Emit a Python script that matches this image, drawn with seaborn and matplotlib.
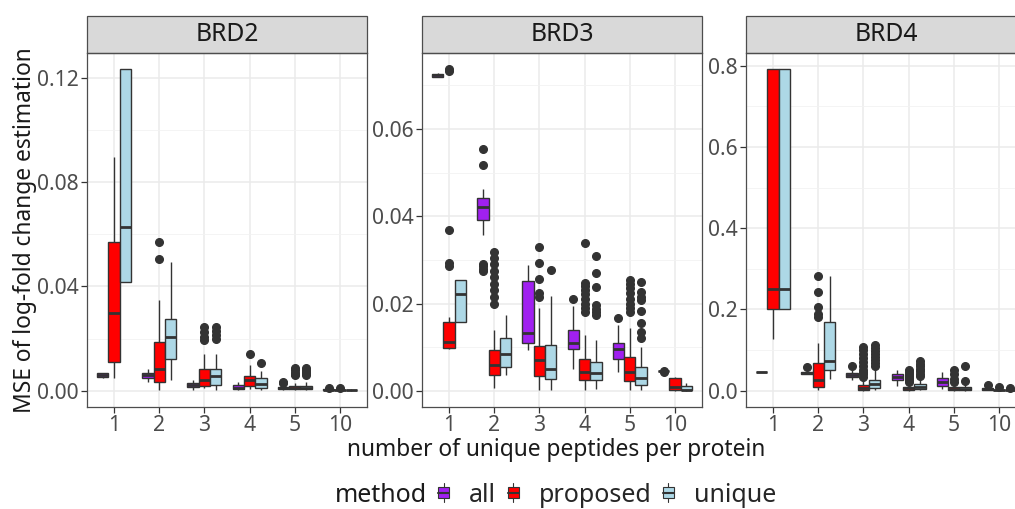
import numpy as np
import pandas as pd
import matplotlib
matplotlib.use("Agg")
import matplotlib.pyplot as plt
import seaborn as sns
from matplotlib.patches import Rectangle, Patch
from matplotlib.lines import Line2D
from matplotlib.legend_handler import HandlerBase
from matplotlib.ticker import FixedLocator, FormatStrFormatter

# ---------------- data ----------------
categories = ['1', '2', '3', '4', '5', '10']
methods = ['all', 'proposed', 'unique']
proteins = ['BRD2', 'BRD3', 'BRD4']
colors = ['#A020F0', '#FF0000', '#ADD8E6']

# five-number summaries per category: [whisker low, Q1, median, Q3, whisker high]
brd2_all = [[0.0050, 0.0053, 0.0060, 0.0068, 0.0070], [0.0035, 0.0051, 0.0060, 0.0069, 0.0085],
            [0.0005, 0.0013, 0.0022, 0.0031, 0.0041], [0.0005, 0.0006, 0.0012, 0.0022, 0.0035],
            [0.0004, 0.0006, 0.0009, 0.0013, 0.0018], [0.0003, 0.0004, 0.0005, 0.0006, 0.0007]]
brd2_all_out = [[], [], [], [], [0.0030, 0.0035], [0.0009]]

brd2_proposed = [[0.0048, 0.0111, 0.0299, 0.0571, 0.0895], [0.0005, 0.0035, 0.0082, 0.0186, 0.0348],
                 [0.0009, 0.0018, 0.0041, 0.0082, 0.0143], [0.0008, 0.0018, 0.0041, 0.0056, 0.0099],
                 [0.0003, 0.0008, 0.0012, 0.0018, 0.0030], [0.0001, 0.0002, 0.0003, 0.0005, 0.0007]]
brd2_proposed_out = [[], [0.0506, 0.0570], [0.0194, 0.0207, 0.0226, 0.0245], [0.0143],
                     [0.0060, 0.0064, 0.0070, 0.0078, 0.0086], [0.0010]]

brd2_unique = [[0.0417, 0.0418, 0.0629, 0.1233, 0.1234], [0.0041, 0.0122, 0.0207, 0.0274, 0.0493],
               [0.0005, 0.0021, 0.0056, 0.0082, 0.0143], [0.0005, 0.0012, 0.0028, 0.0048, 0.0076],
               [0.0003, 0.0008, 0.0012, 0.0018, 0.0032], [0.0001, 0.0002, 0.0003, 0.0005, 0.0007]]
brd2_unique_out = [[], [], [0.0200, 0.0215, 0.0230, 0.0245], [0.0108],
                   [0.0062, 0.0068, 0.0074, 0.0080, 0.0086], []]

brd3_all = [[0.0719, 0.0720, 0.0724, 0.0727, 0.0728], [0.0357, 0.0392, 0.0422, 0.0441, 0.0462],
            [0.0093, 0.0109, 0.0132, 0.0252, 0.0288], [0.0051, 0.0096, 0.0110, 0.0140, 0.0195],
            [0.0044, 0.0074, 0.0095, 0.0109, 0.0150], [0.0044, 0.0045, 0.0045, 0.0045, 0.0046]]
brd3_all_out = [[], [0.0275, 0.0280, 0.0285, 0.0290, 0.0518, 0.0553], [], [0.0210], [0.0166], []]

brd3_proposed = [[0.0097, 0.0098, 0.0112, 0.0158, 0.0170], [0.0006, 0.0036, 0.0059, 0.0093, 0.0139],
                 [0.0003, 0.0035, 0.0070, 0.0102, 0.0190], [0.0002, 0.0026, 0.0044, 0.0073, 0.0128],
                 [0.0002, 0.0022, 0.0044, 0.0078, 0.0143], [0.0000, 0.0001, 0.0008, 0.0030, 0.0031]]
brd3_proposed_out = [[0.0285, 0.0292, 0.0368, 0.0733, 0.0738],
                     [0.0199, 0.0215, 0.0230, 0.0245, 0.0260, 0.0275, 0.0290, 0.0305, 0.0319],
                     [0.0214, 0.0225, 0.0257, 0.0292, 0.0330],
                     [0.0180, 0.0190, 0.0200, 0.0210, 0.0222, 0.0230, 0.0240, 0.0246, 0.0338],
                     [0.0180, 0.0190, 0.0200, 0.0210, 0.0225, 0.0235, 0.0245, 0.0254], []]

brd3_unique = [[0.0157, 0.0158, 0.0222, 0.0254, 0.0255], [0.0036, 0.0055, 0.0084, 0.0120, 0.0174],
               [0.0003, 0.0027, 0.0050, 0.0105, 0.0218], [0.0005, 0.0025, 0.0040, 0.0066, 0.0116],
               [0.0001, 0.0013, 0.0030, 0.0054, 0.0100], [0.0000, 0.0001, 0.0003, 0.0011, 0.0019]]
brd3_unique_out = [[], [], [0.0278], [0.0173, 0.0180, 0.0188, 0.0196, 0.0238, 0.0270, 0.0310],
                   [0.0120, 0.0135, 0.0155, 0.0184, 0.0207, 0.0215, 0.0226, 0.0249], []]

brd4_all = [[0.0465, 0.0466, 0.0468, 0.0470, 0.0471], [0.0400, 0.0410, 0.0430, 0.0460, 0.0490],
            [0.0260, 0.0330, 0.0380, 0.0430, 0.0500], [0.0115, 0.0260, 0.0330, 0.0410, 0.0510],
            [0.0050, 0.0123, 0.0220, 0.0305, 0.0470], [0.0010, 0.0020, 0.0035, 0.0060, 0.0080]]
brd4_all_out = [[], [0.0580], [0.0600], [], [], [0.0140]]

brd4_proposed = [[0.1265, 0.2003, 0.2500, 0.7920, 0.7921], [0.0010, 0.0098, 0.0263, 0.0675, 0.1167],
                 [0.0005, 0.0017, 0.0060, 0.0140, 0.0280], [0.0005, 0.0030, 0.0060, 0.0100, 0.0150],
                 [0.0005, 0.0020, 0.0040, 0.0080, 0.0120], [0.0002, 0.0010, 0.0020, 0.0030, 0.0040]]
brd4_proposed_out = [[], [0.1810, 0.1900, 0.2070, 0.2420, 0.2820],
                     [0.0350, 0.0400, 0.0450, 0.0500, 0.0600, 0.0700, 0.0800, 0.0900, 0.1000, 0.1080],
                     [0.0220, 0.0270, 0.0320, 0.0370, 0.0420, 0.0470, 0.0520],
                     [0.0160, 0.0220, 0.0300, 0.0400, 0.0520], [0.0080]]

brd4_unique = [[0.2002, 0.2003, 0.2500, 0.7920, 0.7921], [0.0290, 0.0510, 0.0730, 0.1700, 0.2820],
               [0.0010, 0.0060, 0.0165, 0.0260, 0.0500], [0.0010, 0.0040, 0.0090, 0.0160, 0.0300],
               [0.0005, 0.0020, 0.0040, 0.0080, 0.0120], [0.0002, 0.0010, 0.0020, 0.0030, 0.0040]]
brd4_unique_out = [[], [], [0.0620, 0.0680, 0.0750, 0.0820, 0.0900, 0.0980, 0.1050, 0.1120],
                   [0.0360, 0.0420, 0.0480, 0.0540, 0.0600, 0.0660, 0.0720],
                   [0.0160, 0.0250, 0.0600], [0.0070]]

yticks = {'BRD2': [0.00, 0.04, 0.08, 0.12],
          'BRD3': [0.00, 0.02, 0.04, 0.06],
          'BRD4': [0.0, 0.2, 0.4, 0.6, 0.8]}
yminor = {'BRD2': [0.02, 0.06, 0.10],
          'BRD3': [0.01, 0.03, 0.05, 0.07],
          'BRD4': [0.1, 0.3, 0.5, 0.7]}
yfmt = {'BRD2': '%.2f', 'BRD3': '%.2f', 'BRD4': '%.1f'}
ylims = {'BRD2': (-0.0062, 0.1295), 'BRD3': (-0.0037, 0.0774), 'BRD4': (-0.040, 0.831)}

stats = {
    ('BRD2', 'all'): (brd2_all, brd2_all_out),
    ('BRD2', 'proposed'): (brd2_proposed, brd2_proposed_out),
    ('BRD2', 'unique'): (brd2_unique, brd2_unique_out),
    ('BRD3', 'all'): (brd3_all, brd3_all_out),
    ('BRD3', 'proposed'): (brd3_proposed, brd3_proposed_out),
    ('BRD3', 'unique'): (brd3_unique, brd3_unique_out),
    ('BRD4', 'all'): (brd4_all, brd4_all_out),
    ('BRD4', 'proposed'): (brd4_proposed, brd4_proposed_out),
    ('BRD4', 'unique'): (brd4_unique, brd4_unique_out),
}


def expand(five, out, k=20):
    lo, q1, med, q3, hi = five
    return [lo] + [q1] * k + [med] * k + [q3] * k + [hi] + list(out)


rows = []
for (prot, meth), (five_list, out_list) in stats.items():
    for cat, five, out in zip(categories, five_list, out_list):
        for v in expand(five, out):
            rows.append((prot, meth, cat, v))
df = pd.DataFrame(rows, columns=['protein', 'method', 'peptides', 'mse'])

# ---------------- styling ----------------
sns.set_theme(style='white')
plt.rcParams['font.family'] = ['Noto Sans', 'DejaVu Sans']

W, H = 1015, 509
fig = plt.figure(figsize=(W / 100, H / 100), dpi=100)

ax_left = [87, 422, 746]
ax_w = 280
ax_top, ax_bot = 53, 407
strip_top = 16

dark = '#333333'
for prot, left in zip(proteins, ax_left):
    ax = fig.add_axes([left / W, 1 - ax_bot / H, ax_w / W, (ax_bot - ax_top) / H])
    sub = df[df['protein'] == prot]
    sns.boxplot(data=sub, x='peptides', y='mse', hue='method', order=categories,
                hue_order=methods, palette=colors, width=0.75, saturation=1,
                linecolor=dark, linewidth=1.0, showcaps=False, legend=False,
                medianprops=dict(color=dark, linewidth=2.0),
                flierprops=dict(marker='o', markerfacecolor=dark, markeredgecolor=dark,
                                markersize=5.5),
                ax=ax)
    ax.set_xlim(-0.6, len(categories) - 0.4)
    ax.set_ylim(*ylims[prot])
    ax.yaxis.set_major_locator(FixedLocator(yticks[prot]))
    ax.yaxis.set_minor_locator(FixedLocator(yminor[prot]))
    ax.yaxis.set_major_formatter(FormatStrFormatter(yfmt[prot]))
    ax.set_axisbelow(True)
    ax.grid(True, which='major', color='#EBEBEB', linewidth=1.1)
    ax.grid(True, which='minor', axis='y', color='#F2F2F2', linewidth=0.6)
    for sp in ax.spines.values():
        sp.set_visible(True)
        sp.set_color('#4D4D4D')
        sp.set_linewidth(0.9)
    ax.tick_params(axis='both', which='major', length=4, width=0.9, color=dark,
                   labelcolor='#4D4D4D', labelsize=15.2, pad=2, bottom=True, left=True)
    ax.tick_params(axis='x', which='major', pad=1.5)
    ax.tick_params(axis='y', which='minor', length=0)
    ax.set_xlabel('')
    ax.set_ylabel('')
    # facet strip
    sh = (ax_bot - strip_top) / (ax_bot - ax_top) - 1
    ax.add_patch(Rectangle((0, 1), 1, sh, transform=ax.transAxes, clip_on=False,
                           facecolor='#D9D9D9', edgecolor='#4D4D4D', linewidth=0.9))
    ax.text(0.5, 1 + sh / 2, prot, transform=ax.transAxes, ha='center', va='center',
            fontsize=17.8, color='#1A1A1A')

fig.text(25 / W, 1 - ((ax_top + ax_bot) / 2) / H, 'MSE of log-fold change estimation',
         rotation=90, ha='center', va='center', fontsize=16.4, color='#1A1A1A')
fig.text(556 / W, 1 - 456 / H, 'number of unique peptides per protein',
         ha='center', va='baseline', fontsize=16.4, color='#1A1A1A')


class BoxHandler(HandlerBase):
    def create_artists(self, legend, orig_handle, xdescent, ydescent, width, height,
                       fontsize, trans):
        fc = orig_handle.get_facecolor()
        x0, y0 = -xdescent, -ydescent
        v = Line2D([x0 + width / 2] * 2, [y0 - 0.1 * height, y0 + 1.1 * height],
                   color=dark, lw=0.8, transform=trans)
        r = Rectangle((x0, y0 + 0.15 * height), width, 0.7 * height, facecolor=fc,
                      edgecolor=dark, lw=0.8, transform=trans)
        m = Line2D([x0, x0 + width], [y0 + height / 2] * 2, color=dark, lw=1.5,
                   transform=trans)
        return [v, r, m]


handles = [Patch(facecolor=c) for c in colors]
fig.text(335 / W, 1 - 495 / H, 'method', ha='left', va='center', fontsize=18,
         color='#1A1A1A')
fig.legend(handles, methods, handler_map={Patch: BoxHandler()}, loc='center left',
           bbox_to_anchor=(438 / W, 1 - 495 / H), ncol=3, frameon=False, fontsize=18,
           handlelength=0.45, handleheight=0.6, handletextpad=0.8, columnspacing=0.45,
           borderaxespad=0, borderpad=0)

fig.savefig('out.png', dpi=100)
